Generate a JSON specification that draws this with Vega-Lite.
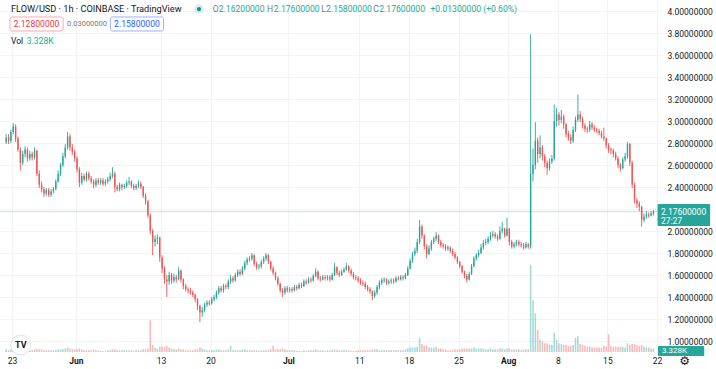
{
"$schema": "https://vega.github.io/schema/vega-lite/v6.json",
"width": 662, "height": 352,
"autosize": {"type": "none"},
"padding": {"left": 0, "top": 0, "right": 54, "bottom": 17},
"background": "#ffffff",
"config": {"view": {"stroke": null}, "font": "Roboto", "axis": {"labelOverlap": false, "labelFlush": false}},
"data": {"values": [
{"t":"2022-05-22T04:00","o":2.81,"h":2.88,"l":2.79,"c":2.85,"v":3},
{"t":"2022-05-22T12:00","o":2.85,"h":2.88,"l":2.79,"c":2.82,"v":2},
{"t":"2022-05-22T20:00","o":2.82,"h":2.92,"l":2.80,"c":2.90,"v":3},
{"t":"2022-05-23T04:00","o":2.90,"h":2.98,"l":2.88,"c":2.95,"v":4},
{"t":"2022-05-23T12:00","o":2.95,"h":2.97,"l":2.81,"c":2.84,"v":4},
{"t":"2022-05-23T20:00","o":2.84,"h":2.86,"l":2.72,"c":2.74,"v":3},
{"t":"2022-05-24T04:00","o":2.74,"h":2.76,"l":2.55,"c":2.62,"v":4},
{"t":"2022-05-24T12:00","o":2.62,"h":2.73,"l":2.60,"c":2.70,"v":3},
{"t":"2022-05-24T20:00","o":2.70,"h":2.77,"l":2.67,"c":2.74,"v":2},
{"t":"2022-05-25T04:00","o":2.74,"h":2.76,"l":2.63,"c":2.66,"v":3},
{"t":"2022-05-25T12:00","o":2.66,"h":2.73,"l":2.64,"c":2.70,"v":2},
{"t":"2022-05-25T20:00","o":2.70,"h":2.72,"l":2.64,"c":2.67,"v":2},
{"t":"2022-05-26T04:00","o":2.67,"h":2.76,"l":2.65,"c":2.73,"v":3},
{"t":"2022-05-26T12:00","o":2.73,"h":2.74,"l":2.50,"c":2.52,"v":4},
{"t":"2022-05-26T20:00","o":2.52,"h":2.55,"l":2.39,"c":2.42,"v":3},
{"t":"2022-05-27T04:00","o":2.42,"h":2.45,"l":2.35,"c":2.38,"v":3},
{"t":"2022-05-27T12:00","o":2.38,"h":2.40,"l":2.31,"c":2.34,"v":2},
{"t":"2022-05-27T20:00","o":2.34,"h":2.39,"l":2.32,"c":2.37,"v":2},
{"t":"2022-05-28T04:00","o":2.37,"h":2.39,"l":2.31,"c":2.33,"v":2},
{"t":"2022-05-28T12:00","o":2.33,"h":2.38,"l":2.31,"c":2.36,"v":2},
{"t":"2022-05-28T20:00","o":2.36,"h":2.40,"l":2.34,"c":2.38,"v":2},
{"t":"2022-05-29T04:00","o":2.38,"h":2.47,"l":2.37,"c":2.45,"v":2},
{"t":"2022-05-29T12:00","o":2.45,"h":2.55,"l":2.44,"c":2.52,"v":3},
{"t":"2022-05-29T20:00","o":2.52,"h":2.62,"l":2.50,"c":2.60,"v":3},
{"t":"2022-05-30T04:00","o":2.60,"h":2.71,"l":2.58,"c":2.68,"v":3},
{"t":"2022-05-30T12:00","o":2.68,"h":2.79,"l":2.66,"c":2.76,"v":4},
{"t":"2022-05-30T20:00","o":2.76,"h":2.90,"l":2.74,"c":2.86,"v":5},
{"t":"2022-05-31T04:00","o":2.86,"h":2.88,"l":2.73,"c":2.76,"v":4},
{"t":"2022-05-31T12:00","o":2.76,"h":2.79,"l":2.69,"c":2.72,"v":3},
{"t":"2022-05-31T20:00","o":2.72,"h":2.74,"l":2.63,"c":2.66,"v":3},
{"t":"2022-06-01T04:00","o":2.66,"h":2.68,"l":2.53,"c":2.56,"v":3},
{"t":"2022-06-01T12:00","o":2.56,"h":2.58,"l":2.40,"c":2.44,"v":4},
{"t":"2022-06-01T20:00","o":2.44,"h":2.53,"l":2.42,"c":2.50,"v":3},
{"t":"2022-06-02T04:00","o":2.50,"h":2.52,"l":2.45,"c":2.47,"v":2},
{"t":"2022-06-02T12:00","o":2.47,"h":2.54,"l":2.45,"c":2.52,"v":2},
{"t":"2022-06-02T20:00","o":2.52,"h":2.54,"l":2.46,"c":2.48,"v":2},
{"t":"2022-06-03T04:00","o":2.48,"h":2.50,"l":2.43,"c":2.45,"v":2},
{"t":"2022-06-03T12:00","o":2.45,"h":2.47,"l":2.39,"c":2.42,"v":3},
{"t":"2022-06-03T20:00","o":2.42,"h":2.48,"l":2.40,"c":2.46,"v":2},
{"t":"2022-06-04T04:00","o":2.46,"h":2.48,"l":2.42,"c":2.44,"v":2},
{"t":"2022-06-04T12:00","o":2.44,"h":2.48,"l":2.42,"c":2.46,"v":1},
{"t":"2022-06-04T20:00","o":2.46,"h":2.48,"l":2.41,"c":2.43,"v":1},
{"t":"2022-06-05T04:00","o":2.43,"h":2.47,"l":2.41,"c":2.45,"v":1},
{"t":"2022-06-05T12:00","o":2.45,"h":2.49,"l":2.43,"c":2.47,"v":2},
{"t":"2022-06-05T20:00","o":2.47,"h":2.53,"l":2.45,"c":2.50,"v":2},
{"t":"2022-06-06T04:00","o":2.50,"h":2.58,"l":2.48,"c":2.52,"v":3},
{"t":"2022-06-06T12:00","o":2.52,"h":2.54,"l":2.35,"c":2.40,"v":3},
{"t":"2022-06-06T20:00","o":2.40,"h":2.42,"l":2.36,"c":2.38,"v":2},
{"t":"2022-06-07T04:00","o":2.38,"h":2.44,"l":2.36,"c":2.42,"v":2},
{"t":"2022-06-07T12:00","o":2.42,"h":2.43,"l":2.37,"c":2.40,"v":2},
{"t":"2022-06-07T20:00","o":2.40,"h":2.43,"l":2.38,"c":2.41,"v":2},
{"t":"2022-06-08T04:00","o":2.41,"h":2.46,"l":2.39,"c":2.44,"v":2},
{"t":"2022-06-08T12:00","o":2.44,"h":2.49,"l":2.42,"c":2.45,"v":2},
{"t":"2022-06-08T20:00","o":2.45,"h":2.46,"l":2.39,"c":2.41,"v":2},
{"t":"2022-06-09T04:00","o":2.41,"h":2.43,"l":2.37,"c":2.39,"v":1},
{"t":"2022-06-09T12:00","o":2.39,"h":2.43,"l":2.37,"c":2.41,"v":2},
{"t":"2022-06-09T20:00","o":2.41,"h":2.46,"l":2.39,"c":2.43,"v":2},
{"t":"2022-06-10T04:00","o":2.43,"h":2.45,"l":2.38,"c":2.40,"v":2},
{"t":"2022-06-10T12:00","o":2.40,"h":2.41,"l":2.30,"c":2.32,"v":3},
{"t":"2022-06-10T20:00","o":2.32,"h":2.34,"l":2.24,"c":2.27,"v":3},
{"t":"2022-06-11T04:00","o":2.27,"h":2.28,"l":2.12,"c":2.14,"v":4},
{"t":"2022-06-11T12:00","o":2.14,"h":2.16,"l":1.97,"c":2.00,"v":36},
{"t":"2022-06-11T20:00","o":2.00,"h":2.02,"l":1.78,"c":1.90,"v":8},
{"t":"2022-06-12T04:00","o":1.90,"h":1.96,"l":1.86,"c":1.93,"v":5},
{"t":"2022-06-12T12:00","o":1.93,"h":1.97,"l":1.88,"c":1.94,"v":4},
{"t":"2022-06-12T20:00","o":1.94,"h":1.95,"l":1.72,"c":1.76,"v":6},
{"t":"2022-06-13T04:00","o":1.76,"h":1.78,"l":1.62,"c":1.66,"v":6},
{"t":"2022-06-13T12:00","o":1.66,"h":1.68,"l":1.52,"c":1.56,"v":6},
{"t":"2022-06-13T20:00","o":1.56,"h":1.60,"l":1.40,"c":1.54,"v":7},
{"t":"2022-06-14T04:00","o":1.54,"h":1.63,"l":1.51,"c":1.60,"v":5},
{"t":"2022-06-14T12:00","o":1.60,"h":1.62,"l":1.52,"c":1.55,"v":4},
{"t":"2022-06-14T20:00","o":1.55,"h":1.61,"l":1.53,"c":1.58,"v":3},
{"t":"2022-06-15T04:00","o":1.58,"h":1.60,"l":1.53,"c":1.56,"v":3},
{"t":"2022-06-15T12:00","o":1.56,"h":1.67,"l":1.55,"c":1.64,"v":4},
{"t":"2022-06-15T20:00","o":1.64,"h":1.65,"l":1.53,"c":1.56,"v":3},
{"t":"2022-06-16T04:00","o":1.56,"h":1.57,"l":1.47,"c":1.50,"v":3},
{"t":"2022-06-16T12:00","o":1.50,"h":1.52,"l":1.45,"c":1.47,"v":2},
{"t":"2022-06-16T20:00","o":1.47,"h":1.49,"l":1.43,"c":1.46,"v":2},
{"t":"2022-06-17T04:00","o":1.46,"h":1.48,"l":1.42,"c":1.44,"v":2},
{"t":"2022-06-17T12:00","o":1.44,"h":1.46,"l":1.40,"c":1.42,"v":2},
{"t":"2022-06-17T20:00","o":1.42,"h":1.43,"l":1.35,"c":1.38,"v":3},
{"t":"2022-06-18T04:00","o":1.38,"h":1.39,"l":1.28,"c":1.32,"v":3},
{"t":"2022-06-18T12:00","o":1.32,"h":1.33,"l":1.17,"c":1.26,"v":5},
{"t":"2022-06-18T20:00","o":1.26,"h":1.31,"l":1.22,"c":1.28,"v":4},
{"t":"2022-06-19T04:00","o":1.28,"h":1.35,"l":1.26,"c":1.33,"v":3},
{"t":"2022-06-19T12:00","o":1.33,"h":1.37,"l":1.31,"c":1.35,"v":2},
{"t":"2022-06-19T20:00","o":1.35,"h":1.37,"l":1.32,"c":1.34,"v":2},
{"t":"2022-06-20T04:00","o":1.34,"h":1.40,"l":1.33,"c":1.38,"v":2},
{"t":"2022-06-20T12:00","o":1.38,"h":1.42,"l":1.36,"c":1.40,"v":2},
{"t":"2022-06-20T20:00","o":1.40,"h":1.46,"l":1.38,"c":1.44,"v":3},
{"t":"2022-06-21T04:00","o":1.44,"h":1.50,"l":1.42,"c":1.48,"v":3},
{"t":"2022-06-21T12:00","o":1.48,"h":1.50,"l":1.44,"c":1.46,"v":2},
{"t":"2022-06-21T20:00","o":1.46,"h":1.52,"l":1.44,"c":1.50,"v":2},
{"t":"2022-06-22T04:00","o":1.50,"h":1.52,"l":1.47,"c":1.49,"v":2},
{"t":"2022-06-22T12:00","o":1.49,"h":1.56,"l":1.47,"c":1.54,"v":3},
{"t":"2022-06-22T20:00","o":1.54,"h":1.60,"l":1.52,"c":1.57,"v":7},
{"t":"2022-06-23T04:00","o":1.57,"h":1.59,"l":1.53,"c":1.55,"v":2},
{"t":"2022-06-23T12:00","o":1.55,"h":1.62,"l":1.54,"c":1.60,"v":2},
{"t":"2022-06-23T20:00","o":1.60,"h":1.65,"l":1.58,"c":1.63,"v":2},
{"t":"2022-06-24T04:00","o":1.63,"h":1.65,"l":1.59,"c":1.61,"v":2},
{"t":"2022-06-24T12:00","o":1.61,"h":1.68,"l":1.60,"c":1.66,"v":3},
{"t":"2022-06-24T20:00","o":1.66,"h":1.73,"l":1.64,"c":1.71,"v":3},
{"t":"2022-06-25T04:00","o":1.71,"h":1.76,"l":1.69,"c":1.74,"v":2},
{"t":"2022-06-25T12:00","o":1.74,"h":1.77,"l":1.72,"c":1.75,"v":2},
{"t":"2022-06-25T20:00","o":1.75,"h":1.80,"l":1.73,"c":1.78,"v":2},
{"t":"2022-06-26T04:00","o":1.78,"h":1.79,"l":1.68,"c":1.70,"v":2},
{"t":"2022-06-26T12:00","o":1.70,"h":1.72,"l":1.65,"c":1.67,"v":2},
{"t":"2022-06-26T20:00","o":1.67,"h":1.70,"l":1.65,"c":1.68,"v":1},
{"t":"2022-06-27T04:00","o":1.68,"h":1.74,"l":1.66,"c":1.72,"v":2},
{"t":"2022-06-27T12:00","o":1.72,"h":1.77,"l":1.70,"c":1.75,"v":2},
{"t":"2022-06-27T20:00","o":1.75,"h":1.80,"l":1.73,"c":1.78,"v":2},
{"t":"2022-06-28T04:00","o":1.78,"h":1.79,"l":1.70,"c":1.72,"v":2},
{"t":"2022-06-28T12:00","o":1.72,"h":1.73,"l":1.64,"c":1.66,"v":3},
{"t":"2022-06-28T20:00","o":1.66,"h":1.68,"l":1.60,"c":1.62,"v":7},
{"t":"2022-06-29T04:00","o":1.62,"h":1.63,"l":1.55,"c":1.57,"v":3},
{"t":"2022-06-29T12:00","o":1.57,"h":1.59,"l":1.50,"c":1.52,"v":3},
{"t":"2022-06-29T20:00","o":1.52,"h":1.53,"l":1.44,"c":1.46,"v":3},
{"t":"2022-06-30T04:00","o":1.46,"h":1.48,"l":1.40,"c":1.44,"v":4},
{"t":"2022-06-30T12:00","o":1.44,"h":1.50,"l":1.42,"c":1.48,"v":3},
{"t":"2022-06-30T20:00","o":1.48,"h":1.50,"l":1.44,"c":1.46,"v":2},
{"t":"2022-07-01T04:00","o":1.46,"h":1.49,"l":1.44,"c":1.47,"v":2},
{"t":"2022-07-01T12:00","o":1.47,"h":1.49,"l":1.44,"c":1.46,"v":2},
{"t":"2022-07-01T20:00","o":1.46,"h":1.51,"l":1.45,"c":1.49,"v":2},
{"t":"2022-07-02T04:00","o":1.49,"h":1.51,"l":1.46,"c":1.48,"v":1},
{"t":"2022-07-02T12:00","o":1.48,"h":1.53,"l":1.47,"c":1.51,"v":1},
{"t":"2022-07-02T20:00","o":1.51,"h":1.53,"l":1.48,"c":1.50,"v":1},
{"t":"2022-07-03T04:00","o":1.50,"h":1.56,"l":1.49,"c":1.54,"v":2},
{"t":"2022-07-03T12:00","o":1.54,"h":1.56,"l":1.51,"c":1.53,"v":1},
{"t":"2022-07-03T20:00","o":1.53,"h":1.58,"l":1.52,"c":1.56,"v":2},
{"t":"2022-07-04T04:00","o":1.56,"h":1.58,"l":1.53,"c":1.55,"v":2},
{"t":"2022-07-04T12:00","o":1.55,"h":1.61,"l":1.54,"c":1.59,"v":2},
{"t":"2022-07-04T20:00","o":1.59,"h":1.66,"l":1.58,"c":1.63,"v":3},
{"t":"2022-07-05T04:00","o":1.63,"h":1.64,"l":1.55,"c":1.57,"v":2},
{"t":"2022-07-05T12:00","o":1.57,"h":1.59,"l":1.54,"c":1.56,"v":2},
{"t":"2022-07-05T20:00","o":1.56,"h":1.60,"l":1.55,"c":1.58,"v":2},
{"t":"2022-07-06T04:00","o":1.58,"h":1.60,"l":1.55,"c":1.57,"v":1},
{"t":"2022-07-06T12:00","o":1.57,"h":1.60,"l":1.55,"c":1.58,"v":2},
{"t":"2022-07-06T20:00","o":1.58,"h":1.60,"l":1.54,"c":1.56,"v":2},
{"t":"2022-07-07T04:00","o":1.56,"h":1.62,"l":1.55,"c":1.60,"v":2},
{"t":"2022-07-07T12:00","o":1.60,"h":1.71,"l":1.59,"c":1.67,"v":3},
{"t":"2022-07-07T20:00","o":1.67,"h":1.68,"l":1.60,"c":1.62,"v":2},
{"t":"2022-07-08T04:00","o":1.62,"h":1.64,"l":1.58,"c":1.60,"v":2},
{"t":"2022-07-08T12:00","o":1.60,"h":1.65,"l":1.59,"c":1.63,"v":2},
{"t":"2022-07-08T20:00","o":1.63,"h":1.67,"l":1.62,"c":1.65,"v":2},
{"t":"2022-07-09T04:00","o":1.65,"h":1.71,"l":1.64,"c":1.68,"v":2},
{"t":"2022-07-09T12:00","o":1.68,"h":1.69,"l":1.62,"c":1.64,"v":2},
{"t":"2022-07-09T20:00","o":1.64,"h":1.66,"l":1.59,"c":1.61,"v":1},
{"t":"2022-07-10T04:00","o":1.61,"h":1.63,"l":1.56,"c":1.58,"v":1},
{"t":"2022-07-10T12:00","o":1.58,"h":1.60,"l":1.55,"c":1.57,"v":1},
{"t":"2022-07-10T20:00","o":1.57,"h":1.59,"l":1.53,"c":1.55,"v":2},
{"t":"2022-07-11T04:00","o":1.55,"h":1.57,"l":1.51,"c":1.53,"v":2},
{"t":"2022-07-11T12:00","o":1.53,"h":1.55,"l":1.50,"c":1.52,"v":2},
{"t":"2022-07-11T20:00","o":1.52,"h":1.54,"l":1.47,"c":1.49,"v":2},
{"t":"2022-07-12T04:00","o":1.49,"h":1.51,"l":1.45,"c":1.47,"v":2},
{"t":"2022-07-12T12:00","o":1.47,"h":1.49,"l":1.43,"c":1.45,"v":2},
{"t":"2022-07-12T20:00","o":1.45,"h":1.46,"l":1.37,"c":1.41,"v":3},
{"t":"2022-07-13T04:00","o":1.41,"h":1.46,"l":1.39,"c":1.44,"v":3},
{"t":"2022-07-13T12:00","o":1.44,"h":1.51,"l":1.42,"c":1.49,"v":3},
{"t":"2022-07-13T20:00","o":1.49,"h":1.55,"l":1.47,"c":1.53,"v":2},
{"t":"2022-07-14T04:00","o":1.53,"h":1.57,"l":1.51,"c":1.55,"v":2},
{"t":"2022-07-14T12:00","o":1.55,"h":1.58,"l":1.53,"c":1.56,"v":2},
{"t":"2022-07-14T20:00","o":1.56,"h":1.57,"l":1.51,"c":1.53,"v":2},
{"t":"2022-07-15T04:00","o":1.53,"h":1.56,"l":1.51,"c":1.54,"v":2},
{"t":"2022-07-15T12:00","o":1.54,"h":1.57,"l":1.52,"c":1.55,"v":2},
{"t":"2022-07-15T20:00","o":1.55,"h":1.57,"l":1.52,"c":1.54,"v":2},
{"t":"2022-07-16T04:00","o":1.54,"h":1.59,"l":1.53,"c":1.57,"v":2},
{"t":"2022-07-16T12:00","o":1.57,"h":1.59,"l":1.55,"c":1.56,"v":2},
{"t":"2022-07-16T20:00","o":1.56,"h":1.60,"l":1.55,"c":1.58,"v":2},
{"t":"2022-07-17T04:00","o":1.58,"h":1.60,"l":1.55,"c":1.57,"v":2},
{"t":"2022-07-17T12:00","o":1.57,"h":1.62,"l":1.56,"c":1.60,"v":3},
{"t":"2022-07-17T20:00","o":1.60,"h":1.68,"l":1.59,"c":1.66,"v":4},
{"t":"2022-07-18T04:00","o":1.66,"h":1.75,"l":1.65,"c":1.73,"v":5},
{"t":"2022-07-18T12:00","o":1.73,"h":1.81,"l":1.71,"c":1.79,"v":5},
{"t":"2022-07-18T20:00","o":1.79,"h":1.85,"l":1.77,"c":1.82,"v":5},
{"t":"2022-07-19T04:00","o":1.82,"h":1.93,"l":1.80,"c":1.90,"v":6},
{"t":"2022-07-19T12:00","o":1.90,"h":2.10,"l":1.88,"c":2.04,"v":16},
{"t":"2022-07-19T20:00","o":2.04,"h":2.06,"l":1.93,"c":1.96,"v":9},
{"t":"2022-07-20T04:00","o":1.96,"h":1.97,"l":1.83,"c":1.86,"v":7},
{"t":"2022-07-20T12:00","o":1.86,"h":1.88,"l":1.75,"c":1.79,"v":7},
{"t":"2022-07-20T20:00","o":1.79,"h":1.87,"l":1.78,"c":1.84,"v":5},
{"t":"2022-07-21T04:00","o":1.84,"h":1.92,"l":1.82,"c":1.90,"v":5},
{"t":"2022-07-21T12:00","o":1.90,"h":1.95,"l":1.88,"c":1.93,"v":5},
{"t":"2022-07-21T20:00","o":1.93,"h":1.99,"l":1.91,"c":1.96,"v":6},
{"t":"2022-07-22T04:00","o":1.96,"h":1.97,"l":1.88,"c":1.90,"v":4},
{"t":"2022-07-22T12:00","o":1.90,"h":1.92,"l":1.85,"c":1.87,"v":4},
{"t":"2022-07-22T20:00","o":1.87,"h":1.89,"l":1.84,"c":1.86,"v":3},
{"t":"2022-07-23T04:00","o":1.86,"h":1.88,"l":1.82,"c":1.84,"v":3},
{"t":"2022-07-23T12:00","o":1.84,"h":1.87,"l":1.82,"c":1.85,"v":2},
{"t":"2022-07-23T20:00","o":1.85,"h":1.86,"l":1.80,"c":1.82,"v":2},
{"t":"2022-07-24T04:00","o":1.82,"h":1.84,"l":1.77,"c":1.79,"v":2},
{"t":"2022-07-24T12:00","o":1.79,"h":1.81,"l":1.74,"c":1.76,"v":3},
{"t":"2022-07-24T20:00","o":1.76,"h":1.77,"l":1.70,"c":1.72,"v":3},
{"t":"2022-07-25T04:00","o":1.72,"h":1.73,"l":1.66,"c":1.68,"v":3},
{"t":"2022-07-25T12:00","o":1.68,"h":1.69,"l":1.61,"c":1.63,"v":4},
{"t":"2022-07-25T20:00","o":1.63,"h":1.64,"l":1.57,"c":1.59,"v":4},
{"t":"2022-07-26T04:00","o":1.59,"h":1.61,"l":1.53,"c":1.56,"v":4},
{"t":"2022-07-26T12:00","o":1.56,"h":1.63,"l":1.55,"c":1.61,"v":4},
{"t":"2022-07-26T20:00","o":1.61,"h":1.70,"l":1.60,"c":1.68,"v":4},
{"t":"2022-07-27T04:00","o":1.68,"h":1.77,"l":1.67,"c":1.75,"v":5},
{"t":"2022-07-27T12:00","o":1.75,"h":1.80,"l":1.73,"c":1.78,"v":4},
{"t":"2022-07-27T20:00","o":1.78,"h":1.83,"l":1.76,"c":1.80,"v":4},
{"t":"2022-07-28T04:00","o":1.80,"h":1.88,"l":1.79,"c":1.85,"v":4},
{"t":"2022-07-28T12:00","o":1.85,"h":1.92,"l":1.83,"c":1.89,"v":4},
{"t":"2022-07-28T20:00","o":1.89,"h":1.93,"l":1.87,"c":1.90,"v":3},
{"t":"2022-07-29T04:00","o":1.90,"h":1.95,"l":1.88,"c":1.93,"v":3},
{"t":"2022-07-29T12:00","o":1.93,"h":1.99,"l":1.91,"c":1.96,"v":4},
{"t":"2022-07-29T20:00","o":1.96,"h":2.00,"l":1.94,"c":1.97,"v":3},
{"t":"2022-07-30T04:00","o":1.97,"h":1.99,"l":1.93,"c":1.95,"v":3},
{"t":"2022-07-30T12:00","o":1.95,"h":1.97,"l":1.91,"c":1.93,"v":3},
{"t":"2022-07-30T20:00","o":1.93,"h":2.04,"l":1.92,"c":2.00,"v":4},
{"t":"2022-07-31T04:00","o":2.00,"h":2.08,"l":1.98,"c":2.02,"v":4},
{"t":"2022-07-31T12:00","o":2.02,"h":2.03,"l":1.94,"c":1.96,"v":3},
{"t":"2022-07-31T20:00","o":1.96,"h":2.12,"l":1.95,"c":2.02,"v":4},
{"t":"2022-08-01T04:00","o":2.02,"h":2.03,"l":1.87,"c":1.90,"v":4},
{"t":"2022-08-01T12:00","o":1.90,"h":1.92,"l":1.84,"c":1.86,"v":3},
{"t":"2022-08-01T20:00","o":1.86,"h":1.90,"l":1.84,"c":1.88,"v":3},
{"t":"2022-08-02T04:00","o":1.88,"h":1.92,"l":1.86,"c":1.90,"v":3},
{"t":"2022-08-02T12:00","o":1.90,"h":1.92,"l":1.86,"c":1.88,"v":3},
{"t":"2022-08-02T20:00","o":1.88,"h":1.90,"l":1.85,"c":1.87,"v":2},
{"t":"2022-08-03T04:00","o":1.87,"h":1.89,"l":1.83,"c":1.85,"v":3},
{"t":"2022-08-03T12:00","o":1.85,"h":1.90,"l":1.84,"c":1.88,"v":3},
{"t":"2022-08-03T20:00","o":1.88,"h":1.89,"l":1.84,"c":1.86,"v":3},
{"t":"2022-08-04T04:00","o":1.86,"h":3.79,"l":1.84,"c":2.52,"v":99},
{"t":"2022-08-04T12:00","o":2.52,"h":2.75,"l":2.45,"c":2.60,"v":59},
{"t":"2022-08-04T20:00","o":2.60,"h":2.99,"l":2.56,"c":2.82,"v":44},
{"t":"2022-08-05T04:00","o":2.82,"h":2.85,"l":2.62,"c":2.70,"v":25},
{"t":"2022-08-05T12:00","o":2.70,"h":2.87,"l":2.66,"c":2.76,"v":14},
{"t":"2022-08-05T20:00","o":2.76,"h":2.78,"l":2.64,"c":2.68,"v":12},
{"t":"2022-08-06T04:00","o":2.68,"h":2.70,"l":2.58,"c":2.62,"v":10},
{"t":"2022-08-06T12:00","o":2.62,"h":2.64,"l":2.51,"c":2.57,"v":10},
{"t":"2022-08-06T20:00","o":2.57,"h":2.66,"l":2.55,"c":2.63,"v":8},
{"t":"2022-08-07T04:00","o":2.63,"h":2.69,"l":2.61,"c":2.66,"v":8},
{"t":"2022-08-07T12:00","o":2.66,"h":3.15,"l":2.64,"c":3.00,"v":22},
{"t":"2022-08-07T20:00","o":3.00,"h":3.12,"l":2.95,"c":3.06,"v":14},
{"t":"2022-08-08T04:00","o":3.06,"h":3.08,"l":2.96,"c":3.01,"v":10},
{"t":"2022-08-08T12:00","o":3.01,"h":3.10,"l":2.98,"c":3.04,"v":9},
{"t":"2022-08-08T20:00","o":3.04,"h":3.06,"l":2.93,"c":2.97,"v":8},
{"t":"2022-08-09T04:00","o":2.97,"h":2.98,"l":2.85,"c":2.88,"v":8},
{"t":"2022-08-09T12:00","o":2.88,"h":2.91,"l":2.82,"c":2.85,"v":7},
{"t":"2022-08-09T20:00","o":2.85,"h":2.88,"l":2.79,"c":2.82,"v":7},
{"t":"2022-08-10T04:00","o":2.82,"h":2.95,"l":2.80,"c":2.92,"v":8},
{"t":"2022-08-10T12:00","o":2.92,"h":3.04,"l":2.90,"c":3.01,"v":16},
{"t":"2022-08-10T20:00","o":3.01,"h":3.24,"l":2.99,"c":3.06,"v":18},
{"t":"2022-08-11T04:00","o":3.06,"h":3.09,"l":2.99,"c":3.02,"v":9},
{"t":"2022-08-11T12:00","o":3.02,"h":3.04,"l":2.93,"c":2.96,"v":8},
{"t":"2022-08-11T20:00","o":2.96,"h":2.98,"l":2.90,"c":2.93,"v":7},
{"t":"2022-08-12T04:00","o":2.93,"h":2.95,"l":2.89,"c":2.92,"v":6},
{"t":"2022-08-12T12:00","o":2.92,"h":3.00,"l":2.90,"c":2.97,"v":6},
{"t":"2022-08-12T20:00","o":2.97,"h":2.99,"l":2.92,"c":2.94,"v":5},
{"t":"2022-08-13T04:00","o":2.94,"h":2.96,"l":2.90,"c":2.92,"v":5},
{"t":"2022-08-13T12:00","o":2.92,"h":2.94,"l":2.89,"c":2.91,"v":5},
{"t":"2022-08-13T20:00","o":2.91,"h":2.93,"l":2.87,"c":2.89,"v":5},
{"t":"2022-08-14T04:00","o":2.89,"h":2.91,"l":2.84,"c":2.86,"v":5},
{"t":"2022-08-14T12:00","o":2.86,"h":2.94,"l":2.82,"c":2.84,"v":7},
{"t":"2022-08-14T20:00","o":2.84,"h":2.85,"l":2.75,"c":2.78,"v":6},
{"t":"2022-08-15T04:00","o":2.78,"h":2.80,"l":2.71,"c":2.74,"v":20},
{"t":"2022-08-15T12:00","o":2.74,"h":2.76,"l":2.70,"c":2.73,"v":7},
{"t":"2022-08-15T20:00","o":2.73,"h":2.75,"l":2.67,"c":2.70,"v":6},
{"t":"2022-08-16T04:00","o":2.70,"h":2.72,"l":2.64,"c":2.66,"v":6},
{"t":"2022-08-16T12:00","o":2.66,"h":2.68,"l":2.57,"c":2.60,"v":6},
{"t":"2022-08-16T20:00","o":2.60,"h":2.62,"l":2.54,"c":2.57,"v":6},
{"t":"2022-08-17T04:00","o":2.57,"h":2.67,"l":2.56,"c":2.65,"v":6},
{"t":"2022-08-17T12:00","o":2.65,"h":2.71,"l":2.63,"c":2.68,"v":5},
{"t":"2022-08-17T20:00","o":2.68,"h":2.81,"l":2.66,"c":2.79,"v":10},
{"t":"2022-08-18T04:00","o":2.79,"h":2.80,"l":2.59,"c":2.62,"v":8},
{"t":"2022-08-18T12:00","o":2.62,"h":2.64,"l":2.39,"c":2.42,"v":9},
{"t":"2022-08-18T20:00","o":2.42,"h":2.44,"l":2.25,"c":2.28,"v":9},
{"t":"2022-08-19T04:00","o":2.28,"h":2.30,"l":2.21,"c":2.25,"v":8},
{"t":"2022-08-19T12:00","o":2.25,"h":2.27,"l":2.18,"c":2.22,"v":7},
{"t":"2022-08-19T20:00","o":2.22,"h":2.23,"l":2.04,"c":2.10,"v":8},
{"t":"2022-08-20T04:00","o":2.10,"h":2.16,"l":2.08,"c":2.13,"v":6},
{"t":"2022-08-20T12:00","o":2.13,"h":2.18,"l":2.11,"c":2.15,"v":5},
{"t":"2022-08-20T20:00","o":2.15,"h":2.17,"l":2.12,"c":2.14,"v":5},
{"t":"2022-08-21T04:00","o":2.14,"h":2.18,"l":2.13,"c":2.16,"v":4},
{"t":"2022-08-21T12:00","o":2.16,"h":2.19,"l":2.14,"c":2.176,"v":4}
]},
"resolve": {"scale": {"y": "independent"}},
"layer": [
{
"mark": {"type": "bar", "size": 1.6, "opacity": 0.4},
"encoding": {
"x": {"field": "t", "type": "temporal",
"scale": {"domain": [{"year": 2022, "month": 5, "date": 22}, {"year": 2022, "month": 8, "date": 22}]},
"axis": {"title": null, "tickCount": 100,
"values": [{"year":2022,"month":5,"date":23},{"year":2022,"month":6,"date":1},{"year":2022,"month":6,"date":13},{"year":2022,"month":6,"date":20},{"year":2022,"month":7,"date":1},{"year":2022,"month":7,"date":11},{"year":2022,"month":7,"date":18},{"year":2022,"month":7,"date":25},{"year":2022,"month":8,"date":1},{"year":2022,"month":8,"date":8},{"year":2022,"month":8,"date":15},{"year":2022,"month":8,"date":22}],
"labelExpr": "date(datum.value) == 1 ? timeFormat(datum.value, '%b') : '' + date(datum.value)",
"labelFontWeight": {"condition": {"test": "date(datum.value) == 1", "value": "bold"}, "value": "normal"},
"labelFontSize": 8.5, "labelColor": "#131722", "labelPadding": 4,
"domain": false, "ticks": false, "grid": true, "gridColor": "#f0f3fa",
"labelFlush": false, "labelOverlap": false}},
"y": {"field": "v", "type": "quantitative", "scale": {"domain": [0, 400]}, "axis": null},
"color": {"condition": {"test": "datum.c >= datum.o", "value": "#26a69a"}, "value": "#ef5350"}
}
},
{
"layer": [
{
"mark": {"type": "rule", "strokeWidth": 0.9},
"encoding": {
"x": {"field": "t", "type": "temporal"},
"y": {"field": "l", "type": "quantitative",
"scale": {"domain": [0.9, 4.1], "zero": false, "nice": false},
"axis": {"title": null, "orient": "right", "tickCount": 100,
"values": [1, 1.2, 1.4, 1.6, 1.8, 2, 2.2, 2.4, 2.6, 2.8, 3, 3.2, 3.4, 3.6, 3.8, 4],
"labelExpr": "abs(datum.value - 2.2) < 0.001 ? '' : format(datum.value, '.8f')",
"domain": false, "ticks": false, "grid": true, "gridColor": "#f0f3fa",
"labelFontSize": 8.5, "labelColor": "#131722", "labelPadding": 5,
"labelOverlap": false, "labelFlush": false}},
"y2": {"field": "h"},
"color": {"condition": {"test": "datum.c >= datum.o", "value": "#26a69a"}, "value": "#ef5350"}
}
},
{
"mark": {"type": "bar", "size": 1.4},
"encoding": {
"x": {"field": "t", "type": "temporal"},
"y": {"field": "o", "type": "quantitative"},
"y2": {"field": "c"},
"color": {"condition": {"test": "datum.c >= datum.o", "value": "#26a69a"}, "value": "#ef5350"}
}
},
{
"data": {"values": [{}]},
"mark": {"type": "rule", "color": "#26a69a", "opacity": 0.3, "strokeWidth": 1},
"encoding": {"y": {"datum": 2.176, "type": "quantitative"}}
},
{
"data": {"values": [{}]},
"mark": {"type": "text", "align": "left", "baseline": "middle", "fontSize": 9.2, "color": "#131722", "text": "FLOW/USD · 1h · COINBASE · TradingView"},
"encoding": {"x": {"datum": {"year":2022,"month":5,"date":22,"hours":20}, "type": "temporal"}, "y": {"datum": 4.018, "type": "quantitative"}}
},
{
"data": {"values": [{}]},
"mark": {"type": "point", "filled": true, "color": "#26a69a", "opacity": 0.18, "size": 90},
"encoding": {"x": {"datum": {"year":2022,"month":6,"date":18,"hours":9}, "type": "temporal"}, "y": {"datum": 4.018, "type": "quantitative"}}
},
{
"data": {"values": [{}]},
"mark": {"type": "point", "filled": true, "color": "#089981", "opacity": 1, "size": 18},
"encoding": {"x": {"datum": {"year":2022,"month":6,"date":18,"hours":9}, "type": "temporal"}, "y": {"datum": 4.018, "type": "quantitative"}}
},
{
"data": {"values": [{}]},
"mark": {"type": "text", "align": "left", "baseline": "middle", "fontSize": 8.6, "color": "#787b86", "text": "O"},
"encoding": {"x": {"datum": {"year":2022,"month":6,"date":20,"hours":7,"minutes":42}, "type": "temporal"}, "y": {"datum": 4.018, "type": "quantitative"}}
},
{
"data": {"values": [{}]},
"mark": {"type": "text", "align": "left", "baseline": "middle", "fontSize": 8.6, "color": "#22ab94", "text": "2.16200000"},
"encoding": {"x": {"datum": {"year":2022,"month":6,"date":21,"hours":3,"minutes":48}, "type": "temporal"}, "y": {"datum": 4.018, "type": "quantitative"}}
},
{
"data": {"values": [{}]},
"mark": {"type": "text", "align": "left", "baseline": "middle", "fontSize": 8.6, "color": "#787b86", "text": "H"},
"encoding": {"x": {"datum": {"year":2022,"month":6,"date":27,"hours":23,"minutes":12}, "type": "temporal"}, "y": {"datum": 4.018, "type": "quantitative"}}
},
{
"data": {"values": [{}]},
"mark": {"type": "text", "align": "left", "baseline": "middle", "fontSize": 8.6, "color": "#22ab94", "text": "2.17600000"},
"encoding": {"x": {"datum": {"year":2022,"month":6,"date":28,"hours":22,"minutes":30}, "type": "temporal"}, "y": {"datum": 4.018, "type": "quantitative"}}
},
{
"data": {"values": [{}]},
"mark": {"type": "text", "align": "left", "baseline": "middle", "fontSize": 8.6, "color": "#787b86", "text": "L"},
"encoding": {"x": {"datum": {"year":2022,"month":7,"date":5,"hours":14,"minutes":36}, "type": "temporal"}, "y": {"datum": 4.018, "type": "quantitative"}}
},
{
"data": {"values": [{}]},
"mark": {"type": "text", "align": "left", "baseline": "middle", "fontSize": 8.6, "color": "#22ab94", "text": "2.15800000"},
"encoding": {"x": {"datum": {"year":2022,"month":7,"date":6,"hours":7,"minutes":18}, "type": "temporal"}, "y": {"datum": 4.018, "type": "quantitative"}}
},
{
"data": {"values": [{}]},
"mark": {"type": "text", "align": "left", "baseline": "middle", "fontSize": 8.6, "color": "#787b86", "text": "C"},
"encoding": {"x": {"datum": {"year":2022,"month":7,"date":12,"hours":23,"minutes":24}, "type": "temporal"}, "y": {"datum": 4.018, "type": "quantitative"}}
},
{
"data": {"values": [{}]},
"mark": {"type": "text", "align": "left", "baseline": "middle", "fontSize": 8.6, "color": "#22ab94", "text": "2.17600000"},
"encoding": {"x": {"datum": {"year":2022,"month":7,"date":13,"hours":19,"minutes":24}, "type": "temporal"}, "y": {"datum": 4.018, "type": "quantitative"}}
},
{
"data": {"values": [{}]},
"mark": {"type": "text", "align": "left", "baseline": "middle", "fontSize": 8.6, "color": "#22ab94", "text": "+0.01300000 (+0.60%)"},
"encoding": {"x": {"datum": {"year":2022,"month":7,"date":21,"hours":0,"minutes":48}, "type": "temporal"}, "y": {"datum": 4.018, "type": "quantitative"}}
},
{
"data": {"values": [{}]},
"mark": {"type": "rect", "fill": "#ffffff", "stroke": "#f7a9ae", "strokeWidth": 1, "cornerRadius": 2},
"encoding": {"x": {"datum": {"year":2022,"month":5,"date":22,"hours":16,"minutes":40}, "type": "temporal"}, "x2": {"datum": {"year":2022,"month":5,"date":30,"hours":4,"minutes":48}}, "y": {"datum": 3.9455, "type": "quantitative"}, "y2": {"datum": 3.8182}}
},
{
"data": {"values": [{}]},
"mark": {"type": "text", "align": "center", "baseline": "middle", "fontSize": 8.6, "color": "#f23645", "text": "2.12800000"},
"encoding": {"x": {"datum": {"year":2022,"month":5,"date":26,"hours":10,"minutes":42}, "type": "temporal"}, "y": {"datum": 3.8818, "type": "quantitative"}}
},
{
"data": {"values": [{}]},
"mark": {"type": "text", "align": "left", "baseline": "middle", "fontSize": 7.5, "color": "#787b86", "text": "0.03000000"},
"encoding": {"x": {"datum": {"year":2022,"month":5,"date":30,"hours":18,"minutes":6}, "type": "temporal"}, "y": {"datum": 3.8818, "type": "quantitative"}}
},
{
"data": {"values": [{}]},
"mark": {"type": "rect", "fill": "#ffffff", "stroke": "#9db2ff", "strokeWidth": 1, "cornerRadius": 2},
"encoding": {"x": {"datum": {"year":2022,"month":6,"date":5,"hours":20,"minutes":54}, "type": "temporal"}, "x2": {"datum": {"year":2022,"month":6,"date":13,"hours":9}}, "y": {"datum": 3.9455, "type": "quantitative"}, "y2": {"datum": 3.8182}}
},
{
"data": {"values": [{}]},
"mark": {"type": "text", "align": "center", "baseline": "middle", "fontSize": 8.6, "color": "#2962ff", "text": "2.15800000"},
"encoding": {"x": {"datum": {"year":2022,"month":6,"date":9,"hours":14,"minutes":54}, "type": "temporal"}, "y": {"datum": 3.8818, "type": "quantitative"}}
},
{
"data": {"values": [{}]},
"mark": {"type": "text", "align": "left", "baseline": "middle", "fontSize": 8.6, "color": "#131722", "text": "Vol"},
"encoding": {"x": {"datum": {"year":2022,"month":5,"date":22,"hours":20}, "type": "temporal"}, "y": {"datum": 3.7273, "type": "quantitative"}}
},
{
"data": {"values": [{}]},
"mark": {"type": "text", "align": "left", "baseline": "middle", "fontSize": 8.6, "color": "#22ab94", "text": "3.328K"},
"encoding": {"x": {"datum": {"year":2022,"month":5,"date":25,"hours":1,"minutes":24}, "type": "temporal"}, "y": {"datum": 3.7273, "type": "quantitative"}}
},
{
"data": {"values": [{}]},
"mark": {"type": "rect", "fill": "#26a69a", "cornerRadius": 1},
"encoding": {"x": {"datum": {"year":2022,"month":8,"date":22,"hours":2}, "type": "temporal"}, "x2": {"datum": {"year":2022,"month":8,"date":29,"hours":12}}, "y": {"datum": 2.2455, "type": "quantitative"}, "y2": {"datum": 2.0455}}
},
{
"data": {"values": [{}]},
"mark": {"type": "text", "align": "left", "baseline": "middle", "fontSize": 8.5, "color": "#ffffff", "text": "2.17600000"},
"encoding": {"x": {"datum": {"year":2022,"month":8,"date":22,"hours":13,"minutes":20}, "type": "temporal"}, "y": {"datum": 2.176, "type": "quantitative"}}
},
{
"data": {"values": [{}]},
"mark": {"type": "text", "align": "left", "baseline": "middle", "fontSize": 8.5, "color": "#ffffff", "text": "27:27"},
"encoding": {"x": {"datum": {"year":2022,"month":8,"date":22,"hours":13,"minutes":20}, "type": "temporal"}, "y": {"datum": 2.091, "type": "quantitative"}}
},
{
"data": {"values": [{}]},
"mark": {"type": "rect", "fill": "#26a69a", "cornerRadius": 1},
"encoding": {"x": {"datum": {"year":2022,"month":8,"date":22,"hours":3,"minutes":20}, "type": "temporal"}, "x2": {"datum": {"year":2022,"month":8,"date":28,"hours":16}}, "y": {"datum": 0.9545, "type": "quantitative"}, "y2": {"datum": 0.8636}}
},
{
"data": {"values": [{}]},
"mark": {"type": "text", "align": "left", "baseline": "middle", "fontSize": 8, "color": "#ffffff", "text": "3.328K"},
"encoding": {"x": {"datum": {"year":2022,"month":8,"date":22,"hours":16,"minutes":40}, "type": "temporal"}, "y": {"datum": 0.9091, "type": "quantitative"}}
},
{
"data": {"values": [{}]},
"mark": {"type": "point", "filled": true, "fill": "#ffffff", "stroke": "#e0e3eb", "strokeWidth": 1, "opacity": 1, "size": 400},
"encoding": {"x": {"datum": {"year":2022,"month":5,"date":24,"hours":5,"minutes":24}, "type": "temporal"}, "y": {"datum": 0.9636, "type": "quantitative"}}
},
{
"data": {"values": [{}]},
"mark": {"type": "text", "align": "center", "baseline": "middle", "fontSize": 9, "fontWeight": "bold", "color": "#131722", "text": "TV"},
"encoding": {"x": {"datum": {"year":2022,"month":5,"date":24,"hours":5,"minutes":24}, "type": "temporal"}, "y": {"datum": 0.9636, "type": "quantitative"}}
},
{
"data": {"values": [{}]},
"mark": {"type": "text", "align": "center", "baseline": "middle", "fontSize": 12, "font": "DejaVu Sans", "color": "#131722", "text": "⚙"},
"encoding": {"x": {"datum": {"year":2022,"month":8,"date":25,"hours":21,"minutes":24}, "type": "temporal"}, "y": {"datum": 0.8182, "type": "quantitative"}}
}
]
}
]
}
